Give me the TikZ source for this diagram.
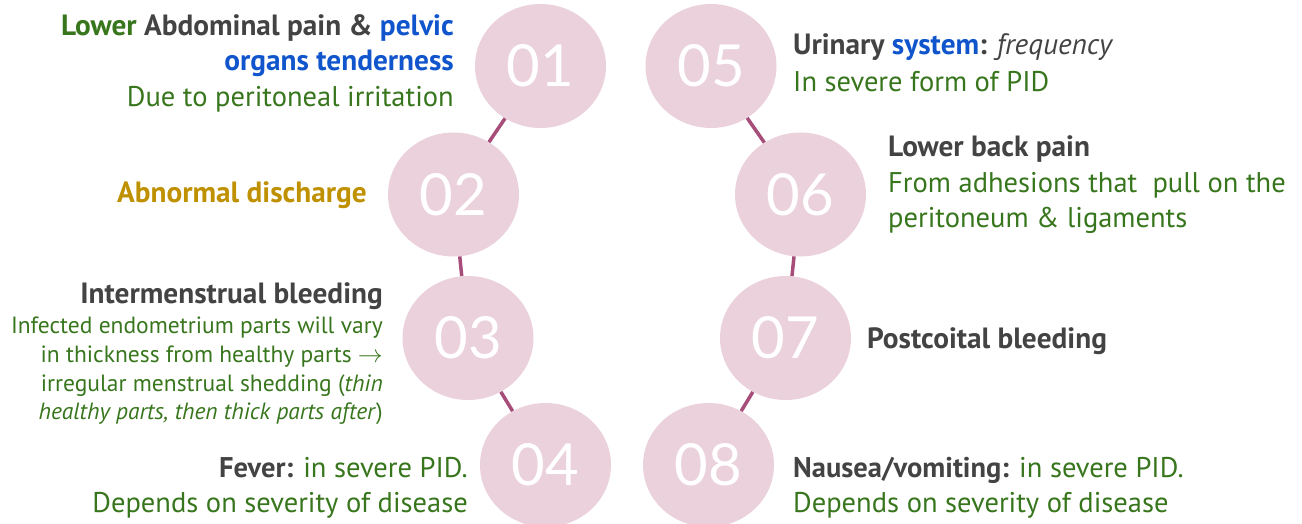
\documentclass[tikz,border=0pt]{standalone}
\usepackage{fontspec}
\setmainfont{PT Sans}
\newfontfamily\numfont{Lato}
\usetikzlibrary{shapes.geometric}
\definecolor{dgreen}{HTML}{38761D}
\definecolor{dblue}{HTML}{1155CC}
\definecolor{dgray}{HTML}{434343}
\definecolor{dgold}{HTML}{BF9000}
\definecolor{cfill}{HTML}{EAD1DC}
\definecolor{cline}{HTML}{A64D79}
\newcommand{\hd}[1]{\fontsize{29.3}{34}\selectfont\bfseries\color{dgray}#1}
\newcommand{\ds}[1]{\fontsize{28.5}{33}\selectfont\color{dgreen}#1}
\newcommand{\sm}[1]{\fontsize{23.5}{28}\selectfont\color{dgreen}#1}
\tikzset{
  bubble/.style={ellipse, fill=cfill, minimum width=131, minimum height=124, inner sep=0pt,
    text=white, font=\numfont\fontsize{58}{60}\selectfont},
  conn/.style={draw=cline, line width=3.5pt},
  lt/.style={anchor=base east, inner sep=0pt},
  rt/.style={anchor=base west, inner sep=0pt}
}
\begin{document}
\begin{tikzpicture}[x=1pt,y=-1pt]
\useasboundingbox (0,0) rectangle (1302,524);
% bubbles
\node[bubble] (b1) at (540.5,66) {01};
\node[bubble] (b2) at (453.5,194.5) {02};
\node[bubble] (b3) at (468,338) {03};
\node[bubble] (b4) at (545.5,465) {04};
\node[bubble] (b5) at (711,66) {05};
\node[bubble] (b6) at (800.5,194.5) {06};
\node[bubble] (b7) at (785.5,338) {07};
\node[bubble] (b8) at (708.5,465) {08};
% connectors
\draw[conn] (b1) -- (b2);
\draw[conn] (b2) -- (b3);
\draw[conn] (b3) -- (b4);
\draw[conn] (b5) -- (b6);
\draw[conn] (b6) -- (b7);
\draw[conn] (b7) -- (b8);
% block 1
\node[lt] (t1a) at (454,36) {\hd{\textcolor{dgreen}{Lower} Abdominal pain \& \textcolor{dblue}{pelvic}}};
\node[lt] (t1b) at (454,71) {\hd{\textcolor{dblue}{organs tenderness}}};
\node[lt] (t1c) at (454,107) {\ds{Due to peritoneal irritation}};
% block 2
\node[lt] (t2a) at (367,203) {\hd{\textcolor{dgold}{Abnormal discharge}}};
% block 3
\node[lt] (t3a) at (383,303) {\hd{Intermenstrual bleeding}};
\node[lt] (t3b) at (383,333) {\sm{Infected endometrium parts will vary}};
\node[lt] (t3c) at (383,362) {\sm{in thickness from healthy parts $\rightarrow$}};
\node[lt] (t3d) at (383,391) {\sm{irregular menstrual shedding (\textit{thin}}};
\node[lt] (t3e) at (383,419) {\sm{\textit{healthy parts, then thick parts after})}};
% block 4
\node[lt] (t4a) at (468,477) {\ds{\textbf{\textcolor{dgray}{Fever:}} in severe PID.}};
\node[lt] (t4b) at (468,512) {\ds{Depends on severity of disease}};
% block 5
\node[rt] (t5a) at (793,55) {\hd{Urinary \textcolor{dblue}{system}: \textmd{\itshape frequency}}};
\node[rt] (t5b) at (793,92) {\ds{In severe form of PID}};
% block 6
\node[rt] (t6a) at (888,157) {\hd{Lower back pain}};
\node[rt] (t6b) at (888,193) {\ds{From adhesions that\ \ pull on the}};
\node[rt] (t6c) at (888,227) {\ds{peritoneum \& ligaments}};
% block 7
\node[rt] (t7a) at (867,348) {\hd{Postcoital bleeding}};
% block 8
\node[rt] (t8a) at (793,477) {\ds{\textbf{\textcolor{dgray}{Nausea/vomiting:}} in severe PID.}};
\node[rt] (t8b) at (793,512) {\ds{Depends on severity of disease}};
\end{tikzpicture}
\end{document}
